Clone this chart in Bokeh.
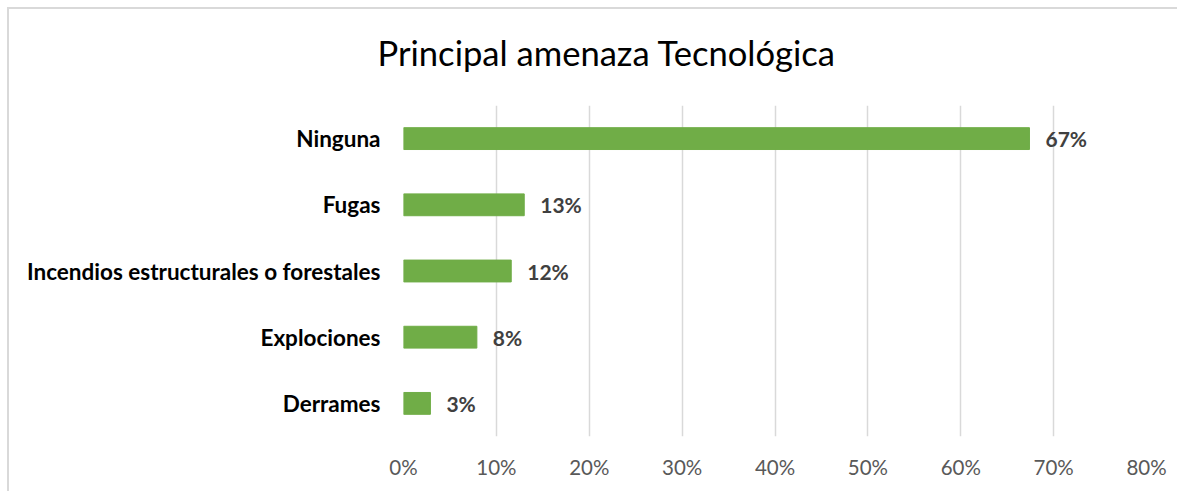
from bokeh.plotting import figure
from bokeh.models import FactorRange, Range1d, ColumnDataSource, PrintfTickFormatter, FixedTicker, Title
from bokeh.core.properties import value
from bokeh.embed import file_html
from bokeh.resources import INLINE

categories = ["Ninguna", "Fugas", "Incendios estructurales o forestales", "Explociones", "Derrames"]
values = [67.4, 13.0, 11.6, 7.9, 2.9]
labels = ["67%", "13%", "12%", "8%", "3%"]
ticks = [0, 10, 20, 30, 40, 50, 60, 70, 80]

src = ColumnDataSource(dict(cat=categories, val=values, lab=labels))

p = figure(width=1170, height=484, output_backend="svg", toolbar_location=None,
           y_range=FactorRange(factors=categories[::-1], range_padding=0),
           x_range=Range1d(0, 80),
           min_border_left=394, min_border_right=33, min_border_top=96, min_border_bottom=57,
           border_fill_color="white", background_fill_color="white")
p.styles = {"margin-left": "9px", "margin-top": "9px",
            "box-shadow": "-2px -2px 0px 0px #d9d9d9"}
p.outline_line_color = None

p.hbar(y="cat", right="val", left=0, height=0.33, source=src, color="#70AD47")
p.text(x="val", y="cat", text="lab", source=src, x_offset=16, text_align="left",
       text_baseline="middle", text_font=value("Lato"), text_font_size="21px",
       text_font_style="bold", text_color="#404040")

# spacer between plot area and title
spacer = Title(text=" ", text_font="Lato", text_font_size="10px", standoff=19)
p.add_layout(spacer, "above")
t = Title(text="Principal amenaza Tecnológica", align="left", offset=-26, standoff=0,
          text_font="Lato", text_font_size="34.6px", text_font_style="normal", text_color="black")
p.add_layout(t, "above")

p.xaxis.ticker = FixedTicker(ticks=ticks)
p.xaxis.formatter = PrintfTickFormatter(format="%d%%")
p.xaxis.axis_line_color = None
p.xaxis.major_tick_line_color = None
p.xaxis.minor_tick_line_color = None
p.xaxis.major_label_standoff = 12
p.xaxis.major_label_text_font = "Lato"
p.xaxis.major_label_text_font_size = "20.5px"
p.xaxis.major_label_text_color = "#595959"

p.yaxis.axis_line_color = None
p.yaxis.major_tick_line_color = None
p.yaxis.major_label_standoff = 17
p.yaxis.major_label_text_font = "Lato"
p.yaxis.major_label_text_font_size = "22.5px"
p.yaxis.major_label_text_font_style = "bold"
p.yaxis.major_label_text_color = "black"

p.xgrid.ticker = FixedTicker(ticks=ticks)
p.xgrid.grid_line_color = "#d9d9d9"
p.xgrid.grid_line_width = 1.5
p.ygrid.grid_line_color = None

open("out.html", "w").write(file_html(p, INLINE))
